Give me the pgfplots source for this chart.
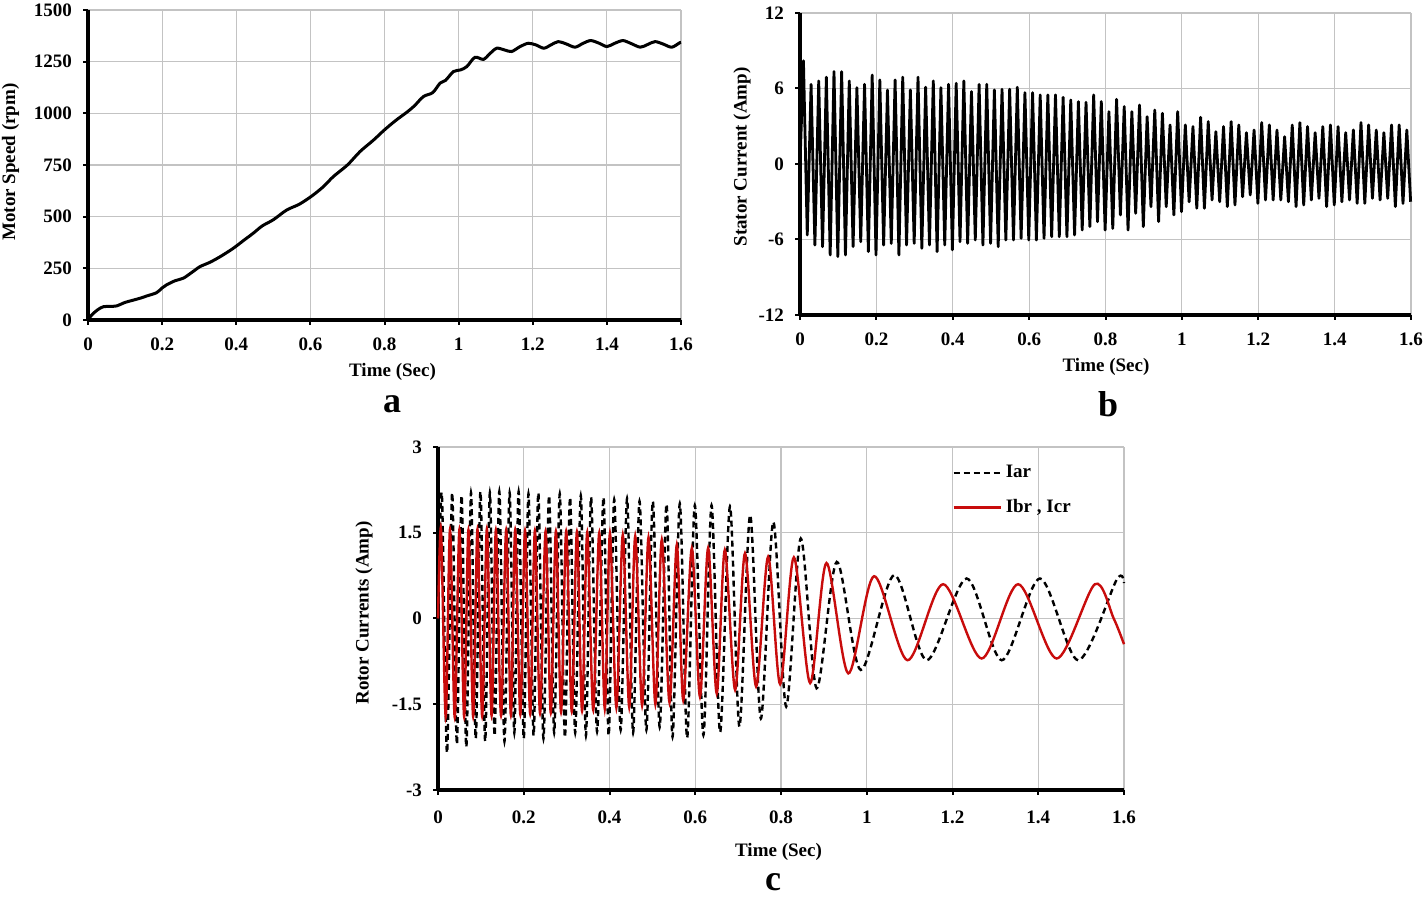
\documentclass[border=0pt]{standalone}
\usepackage{fontspec}
\setmainfont{Liberation Serif}
\usepackage{pgfplots}
\usepackage{pgfplotstable}
\pgfplotsset{compat=1.18}
\definecolor{myred}{RGB}{200,12,12}
\definecolor{gridgray}{RGB}{195,195,195}
\newcommand{\lblfont}{\fontsize{9.5}{11}\selectfont\bfseries}

\pgfplotstableread{
t v
0 0
0.01 24
0.025 48
0.041 64
0.06 66
0.077 68
0.1 85
0.12 95
0.14 105
0.16 117
0.185 132
0.2 155
0.212 170
0.235 190
0.257 202
0.28 230
0.302 258
0.33 280
0.36 310
0.392 347
0.42 385
0.446 420
0.47 455
0.5 485
0.536 532
0.57 560
0.604 600
0.635 645
0.662 694
0.7 750
0.734 815
0.77 870
0.80 920
0.83 965
0.86 1005
0.88 1035
0.905 1081
0.93 1100
0.95 1146
0.965 1160
0.986 1202
1.005 1210
1.022 1226
1.044 1271
1.067 1261
1.085 1290
1.103 1315
1.125 1306
1.143 1299
1.165 1322
1.188 1339
1.21 1330
1.23 1315
1.25 1332
1.269 1347
1.29 1336
1.314 1320
1.335 1338
1.356 1352
1.378 1340
1.40 1323
1.42 1338
1.443 1352
1.465 1338
1.49 1320
1.51 1333
1.53 1347
1.552 1335
1.575 1320
1.597 1342
1.6 1343
}\speed

\pgfplotstableread{
t v
0 0
0.009 8.2
0.019 -5.64
0.029 6.33
0.039 -6.44
0.049 6.6
0.059 -6.57
0.069 6.9
0.079 -7.23
0.089 7.34
0.099 -7.36
0.109 7.34
0.119 -7.23
0.129 6.6
0.139 -6.57
0.149 6.07
0.159 -6.17
0.169 6.33
0.179 -6.97
0.189 7.07
0.199 -7.23
0.209 6.68
0.219 -6.44
0.229 5.88
0.239 -6.31
0.249 6.68
0.259 -7.23
0.269 6.9
0.279 -6.44
0.289 5.88
0.299 -6.31
0.309 6.9
0.319 -6.7
0.329 6.1
0.339 -6.44
0.349 6.6
0.359 -6.97
0.369 6.07
0.379 -6.44
0.389 6.33
0.399 -6.83
0.409 6.41
0.419 -6.17
0.429 6.6
0.439 -6.31
0.449 5.75
0.459 -6.04
0.469 6.33
0.479 -6.44
0.489 6.33
0.499 -6.31
0.509 5.88
0.519 -6.57
0.529 5.94
0.539 -6.04
0.549 5.94
0.559 -6.04
0.569 6.1
0.579 -5.91
0.589 5.67
0.599 -6.04
0.609 5.67
0.619 -6.04
0.629 5.49
0.639 -5.91
0.649 5.49
0.659 -5.78
0.669 5.49
0.679 -5.78
0.689 5.3
0.699 -5.78
0.709 5.09
0.719 -5.64
0.729 4.96
0.739 -5.25
0.749 4.9
0.759 -4.98
0.769 5.49
0.779 -4.58
0.789 4.96
0.799 -5.25
0.809 4.16
0.819 -5.12
0.829 5.14
0.839 -4.05
0.849 4.56
0.859 -5.25
0.869 4.16
0.879 -3.92
0.889 4.69
0.899 -4.98
0.909 3.76
0.919 -3.39
0.929 4.29
0.939 -4.58
0.949 4.03
0.959 -3.39
0.969 3.10
0.979 -4.05
0.989 4.16
0.999 -3.79
1.009 3.10
1.019 -3.0
1.029 2.97
1.039 -3.52
1.049 3.71
1.059 -3.52
1.069 3.37
1.079 -2.86
1.089 2.57
1.099 -3.0
1.109 2.97
1.119 -3.39
1.129 3.37
1.139 -3.26
1.149 3.10
1.159 -2.60
1.169 2.49
1.179 -2.46
1.189 2.70
1.199 -3.13
1.209 3.29
1.219 -2.86
1.229 3.10
1.239 -2.86
1.249 2.70
1.259 -2.86
1.269 2.17
1.279 -3.0
1.289 3.10
1.299 -3.39
1.309 3.29
1.319 -3.26
1.329 2.97
1.339 -2.86
1.349 2.49
1.359 -2.73
1.369 2.97
1.379 -3.39
1.389 3.10
1.399 -3.26
1.409 2.97
1.419 -3.0
1.429 2.49
1.439 -2.86
1.449 2.70
1.459 -3.13
1.469 3.29
1.479 -3.13
1.489 3.10
1.499 -2.73
1.509 2.70
1.519 -2.86
1.529 2.49
1.539 -2.73
1.549 3.10
1.559 -3.39
1.569 3.10
1.579 -3.13
1.589 2.70
1.599 -3.0
}\stator

\pgfplotstableread{
t v
0 0
0.009 2.18
0.021 -2.35
0.033 2.2
0.044 -2.2
0.055 2.15
0.066 -2.25
0.077 2.2
0.088 -2.1
0.099 2.22
0.110 -2.15
0.121 2.2
0.132 -2.05
0.143 2.22
0.155 -2.15
0.167 2.2
0.178 -2.0
0.188 2.22
0.200 -2.1
0.211 2.18
0.223 -2.05
0.234 2.2
0.246 -2.1
0.259 2.15
0.271 -2.0
0.284 2.18
0.296 -2.08
0.308 2.12
0.320 -2.0
0.333 2.15
0.345 -2.05
0.357 2.12
0.371 -1.98
0.386 2.12
0.398 -2.05
0.411 2.08
0.426 -1.95
0.441 2.1
0.455 -2.0
0.470 2.05
0.486 -1.95
0.501 2.05
0.517 -1.9
0.533 2.0
0.547 -2.07
0.564 2.01
0.581 -2.09
0.599 1.98
0.619 -2.04
0.638 1.98
0.658 -1.99
0.681 1.96
0.703 -1.89
0.728 1.81
0.753 -1.75
0.782 1.69
0.812 -1.54
0.846 1.40
0.883 -1.22
0.930 0.99
0.986 -0.90
1.064 0.76
1.140 -0.73
1.233 0.70
1.315 -0.73
1.404 0.70
1.493 -0.73
1.583 0.68
1.6 0.62
}\iar

\pgfplotstableread{
t v
0 0
0.007 1.57
0.018 -1.72
0.028 1.56
0.039 -1.73
0.050 1.56
0.061 -1.72
0.071 1.55
0.082 -1.72
0.092 1.56
0.103 -1.71
0.114 1.57
0.125 -1.70
0.135 1.55
0.147 -1.70
0.159 1.55
0.170 -1.69
0.180 1.55
0.192 -1.68
0.203 1.54
0.215 -1.67
0.226 1.54
0.238 -1.66
0.251 1.53
0.263 -1.65
0.275 1.53
0.287 -1.64
0.299 1.53
0.312 -1.63
0.324 1.52
0.336 -1.62
0.348 1.51
0.362 -1.60
0.376 1.50
0.389 -1.58
0.401 1.49
0.416 -1.56
0.431 1.46
0.446 -1.55
0.460 1.44
0.476 -1.52
0.491 1.42
0.507 -1.50
0.522 1.38
0.540 -1.47
0.557 1.29
0.572 -1.43
0.592 1.23
0.611 -1.37
0.630 1.23
0.650 -1.31
0.669 1.20
0.693 -1.25
0.716 1.14
0.742 -1.19
0.770 1.08
0.798 -1.15
0.830 1.07
0.868 -1.13
0.906 0.97
0.957 -0.96
1.017 0.74
1.095 -0.73
1.178 0.60
1.268 -0.70
1.353 0.60
1.443 -0.70
1.532 0.60
1.576 0.0
1.6 -0.45
}\ibr

\pgfplotsset{
  mystyle/.style={
    scale only axis,
    axis lines=left,
    axis line style={-, line width=1.8pt, black},
    grid=major,
    grid style={gridgray, line width=0.6pt},
    tick align=outside,
    major tick length=2.5pt,
    tick style={black, line width=1pt},
    tick label style={font=\lblfont},
    /pgf/number format/assume math mode=true,
    /pgf/number format/1000 sep={},
    xticklabel style={yshift=-3pt},
    yticklabel style={xshift=-2pt},
    clip=false,
    xmin=0, xmax=1.6,
    xtick={0,0.2,0.4,0.6,0.8,1,1.2,1.4,1.6},
  }
}

\begin{document}
\begin{tikzpicture}
\useasboundingbox (0,0) rectangle (714pt,448.5pt);

% panel a
\begin{axis}[mystyle, at={(44pt,288.5pt)}, anchor=south west,
  width=296.5pt, height=155pt, ymin=0, ymax=1500,
  ytick={0,250,500,750,1000,1250,1500}]
\addplot[black, line width=1.5pt, smooth] table[x=t,y=v] {\speed};
\end{axis}

% panel b
\begin{axis}[mystyle, at={(400pt,291pt)}, anchor=south west,
  width=305.5pt, height=151pt, ymin=-12, ymax=12,
  ytick={-12,-6,0,6,12}]
\addplot[black, line width=1.4pt, line join=round] table[x=t,y=v] {\stator};
\end{axis}

% panel c
\begin{axis}[mystyle, at={(219pt,53.5pt)}, anchor=south west,
  width=343pt, height=171.5pt, ymin=-3, ymax=3,
  ytick={-3,-1.5,0,1.5,3},
  xticklabel style={yshift=-1.5pt},
  legend style={at={(axis description cs:0.7405,0.972)}, anchor=north west,
    draw=none, fill=none, font=\lblfont, row sep=5.5pt},
  legend cell align=left,
  legend image code/.code={\draw[#1] (-1pt,0pt) -- (22.5pt,0pt);}]
\addplot[black, line width=1.2pt, dash pattern=on 3pt off 2pt, smooth] table[x=t,y=v] {\iar};
\addlegendentry{Iar}
\addplot[myred, line width=1.2pt, smooth] table[x=t,y=v] {\ibr};
\addlegendentry{Ibr , Icr}
\end{axis}

% labels
\node[font=\lblfont, rotate=90] at (5.25pt,367.5pt) {Motor Speed (rpm)};
\node[font=\lblfont] at (196.25pt,262.5pt) {Time (Sec)};
\node[font=\fontsize{18}{20}\selectfont\bfseries, inner sep=0pt] at (196pt,246.5pt) {a};
\node[font=\lblfont, rotate=90] at (371pt,370pt) {Stator Current (Amp)};
\node[font=\lblfont] at (553pt,265pt) {Time (Sec)};
\node[font=\fontsize{18}{20}\selectfont\bfseries, inner sep=0pt] at (554pt,246.5pt) {b};
\node[font=\lblfont, rotate=90] at (182pt,142pt) {Rotor Currents (Amp)};
\node[font=\lblfont] at (389.25pt,22.5pt) {Time (Sec)};
\node[font=\fontsize{18}{20}\selectfont\bfseries, inner sep=0pt] at (386.5pt,7.5pt) {c};
\end{tikzpicture}
\end{document}
